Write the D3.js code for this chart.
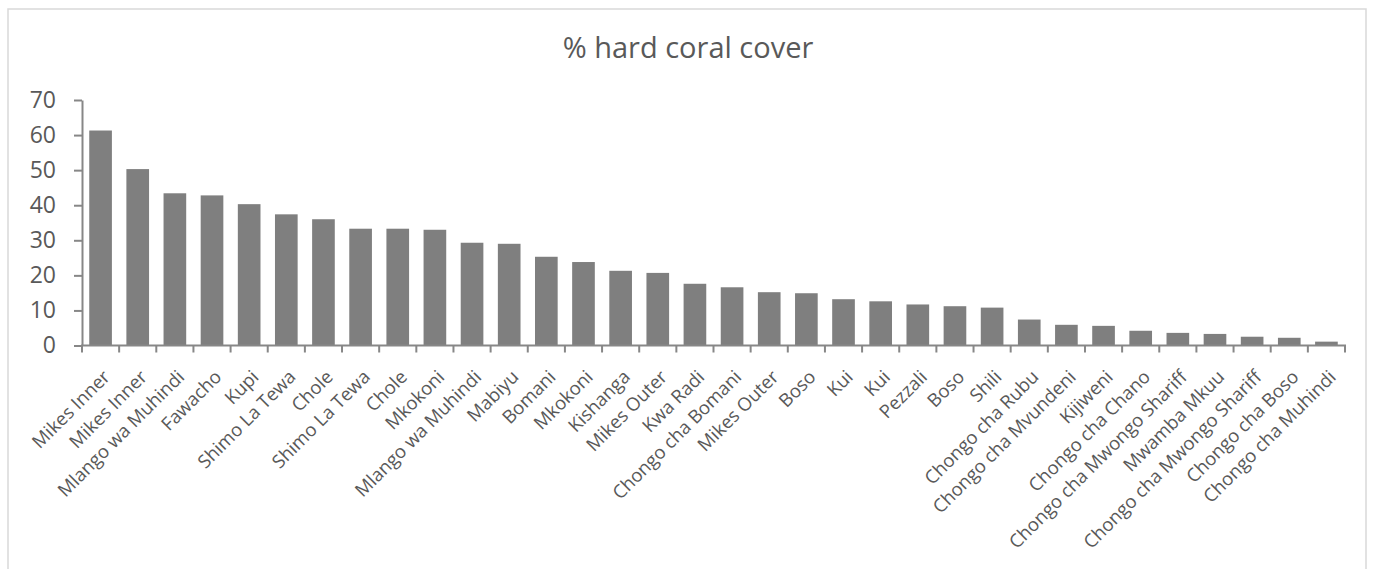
<!DOCTYPE html>
<html>
<head>
<meta charset="utf-8">
<script src="https://cdn.jsdelivr.net/npm/d3@7"></script>
<style>
  html, body { margin: 0; padding: 0; background: #fff; }
  svg { display: block; }
</style>
</head>
<body>
<svg id="chart" width="1373" height="569"></svg>
<script>
const title = "% hard coral cover";
const categories = [
  "Mikes Inner", "Mikes Inner", "Mlango wa Muhindi", "Fawacho", "Kupi",
  "Shimo La Tewa", "Chole", "Shimo La Tewa", "Chole", "Mkokoni",
  "Mlango wa Muhindi", "Mabiyu", "Bomani", "Mkokoni", "Kishanga",
  "Mikes Outer", "Kwa Radi", "Chongo cha Bomani", "Mikes Outer", "Boso",
  "Kui", "Kui", "Pezzali", "Boso", "Shili",
  "Chongo cha Rubu", "Chongo cha Mvundeni", "Kijiweni", "Chongo cha Chano", "Chongo cha Mwongo Shariff",
  "Mwamba Mkuu", "Chongo cha Mwongo Shariff", "Chongo cha Boso", "Chongo cha Muhindi"
];
const values = [
  61.3, 50.3, 43.4, 42.8, 40.3,
  37.4, 36.0, 33.3, 33.3, 33.0,
  29.3, 29.0, 25.3, 23.8, 21.3,
  20.7, 17.6, 16.6, 15.2, 14.9,
  13.2, 12.6, 11.7, 11.2, 10.8,
  7.4, 5.9, 5.6, 4.2, 3.6,
  3.3, 2.5, 2.2, 1.1
];
const yTicks = [0, 10, 20, 30, 40, 50, 60, 70];

const svg = d3.select("#chart");
const textColor = "#595959";
const axisColor = "#878787";
const barColor = "#7f7f7f";
const font = "'Open Sans', 'Noto Sans', sans-serif";

// outer frame
svg.append("rect")
  .attr("x", 8).attr("y", 9).attr("width", 1358).attr("height", 580)
  .attr("fill", "none").attr("stroke", "#d9d9d9").attr("stroke-width", 1.5);

// title
svg.append("text")
  .attr("x", 688).attr("y", 58)
  .attr("text-anchor", "middle")
  .attr("font-family", font).attr("font-size", 29)
  .attr("fill", textColor)
  .text(title);

const idx = d3.range(categories.length);
const x = d3.scaleBand()
  .domain(idx)
  .range([82, 1345])
  .paddingInner(0.39)
  .paddingOuter(0.195);

const y = d3.scaleLinear().domain([0, 70]).range([345.5, 100]);

// bars
svg.append("g").selectAll("rect")
  .data(idx)
  .join("rect")
  .attr("x", i => x(i))
  .attr("y", i => y(values[i]))
  .attr("width", x.bandwidth())
  .attr("height", i => y(0) - y(values[i]))
  .attr("fill", barColor);

// y axis
const yAxis = svg.append("g")
  .attr("transform", "translate(82,0)")
  .call(d3.axisLeft(y).tickValues(yTicks).tickSize(8).tickPadding(18).tickSizeOuter(0));
yAxis.select(".domain").attr("stroke", axisColor).attr("stroke-width", 2);
yAxis.selectAll(".tick line").attr("stroke", axisColor).attr("stroke-width", 2);
yAxis.selectAll(".tick text")
  .attr("font-family", font).attr("font-size", 23).attr("fill", textColor);

// x axis line
const x0 = x.range()[0], x1 = x.range()[1];
svg.append("line")
  .attr("x1", x0 - 1).attr("x2", x1 + 1)
  .attr("y1", y(0)).attr("y2", y(0))
  .attr("stroke", axisColor).attr("stroke-width", 2);

// x ticks at band boundaries
const step = x.step();
const boundaries = d3.range(categories.length + 1).map(i => x(0) - step * x.paddingInner() / 2 + i * step);
svg.append("g").selectAll("line")
  .data(boundaries)
  .join("line")
  .attr("x1", d => d).attr("x2", d => d)
  .attr("y1", y(0)).attr("y2", y(0) + 7)
  .attr("stroke", axisColor).attr("stroke-width", 2);

// x labels
svg.append("g").selectAll("text")
  .data(idx)
  .join("text")
  .attr("transform", i => `translate(${x(i) + x.bandwidth() / 2 + 6},${y(0) + 28}) rotate(-45)`)
  .attr("text-anchor", "end")
  .attr("dy", "0.35em")
  .attr("font-family", font).attr("font-size", 18.5)
  .attr("fill", textColor)
  .text(i => categories[i]);
</script>
</body>
</html>
